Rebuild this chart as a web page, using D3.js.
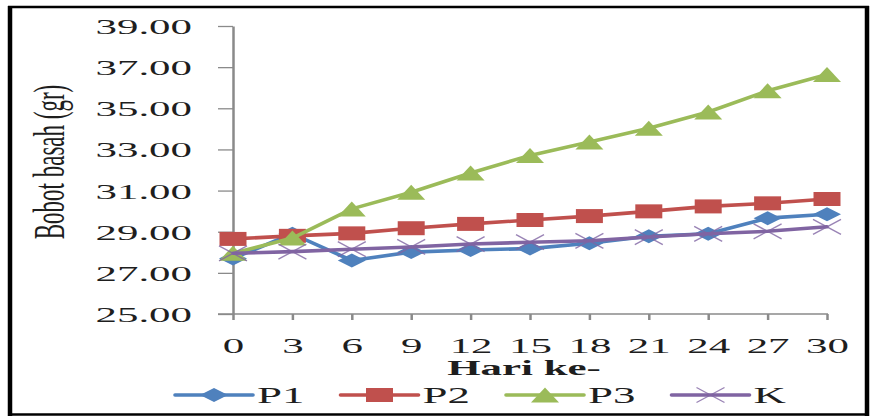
<!DOCTYPE html>
<html>
<head>
<meta charset="utf-8">
<script src="https://cdn.jsdelivr.net/npm/d3@7"></script>
<style>
  html, body { margin: 0; padding: 0; background: #fff; }
  svg { display: block; }
  text { font-family: "Liberation Serif", "Times New Roman", serif; fill: #1e1e1e; }
</style>
</head>
<body>
<svg id="chart" width="871" height="418"></svg>
<script>
// Days of observation (x categories)
const days = [0, 3, 6, 9, 12, 15, 18, 21, 24, 27, 30];

// Fresh weight (gr) per treatment
const p1 = [27.70, 28.90, 27.60, 28.01, 28.11, 28.18, 28.44, 28.78, 28.90, 29.66, 29.85];
const p2 = [28.65, 28.80, 28.92, 29.17, 29.38, 29.57, 29.76, 29.99, 30.23, 30.38, 30.59];
const p3 = [27.95, 28.69, 30.11, 30.92, 31.85, 32.71, 33.36, 34.03, 34.82, 35.85, 36.64];
const k  = [27.95, 28.03, 28.15, 28.26, 28.40, 28.49, 28.56, 28.74, 28.90, 29.02, 29.24];

const seriesNames = ["P1", "P2", "P3", "K"];
const seriesColors = ["#4F81BD", "#C0504D", "#9BBB59", "#8064A2"];
const seriesMarkers = ["diamond", "square", "triangle", "cross"];
const seriesValues = [p1, p2, p3, k];

// Y axis ticks
const yTicks = [25, 27, 29, 31, 33, 35, 37, 39];

const yTitle = "Bobot basah (gr)";
const xTitle = "Hari ke-";

// Horizontal stretch applied to lettering
const SX = 1.95;

const svg = d3.select("#chart");

svg.append("rect").attr("width", 871).attr("height", 418).attr("fill", "#fff");

const x = d3.scalePoint().domain(days).range([233, 827]).padding(0);
const y = d3.scaleLinear().domain([25, 39]).range([314, 26]);

// Y axis
const yAxis = svg.append("g")
  .attr("transform", "translate(233,0)")
  .call(d3.axisLeft(y).tickValues(yTicks).tickSize(15).tickSizeOuter(0).tickFormat(d3.format(".2f")));
yAxis.select(".domain").attr("stroke", "#8a8a8a").attr("stroke-width", 2.5);
yAxis.selectAll(".tick line").attr("stroke", "#8a8a8a").attr("stroke-width", 1.3);
yAxis.selectAll(".tick text")
  .attr("x", -41 / SX)
  .attr("dy", "0.34em")
  .attr("transform", `scale(${SX},1)`)
  .style("font-size", "22px")
  .style("font-family", "'Liberation Serif', serif")
  .attr("fill", "#1e1e1e");

// X axis
const xAxis = svg.append("g")
  .attr("transform", "translate(0,314)")
  .call(d3.axisBottom(x).tickSize(6).tickSizeOuter(0));
xAxis.select(".domain").remove();
xAxis.append("line")
  .attr("x1", 218).attr("x2", 828).attr("y1", 0).attr("y2", 0)
  .attr("stroke", "#8a8a8a").attr("stroke-width", 1.3);
xAxis.selectAll(".tick line").attr("stroke", "#8a8a8a").attr("stroke-width", 2.5);
xAxis.selectAll(".tick text")
  .attr("y", 32)
  .attr("dy", "0.34em")
  .attr("transform", `scale(${SX},1)`)
  .style("font-size", "22px")
  .style("font-family", "'Liberation Serif', serif")
  .attr("fill", "#1e1e1e");

// Marker shapes (width, height)
function markerPath(type, w, h) {
  const a = w / 2, b = h / 2;
  switch (type) {
    case "diamond": return `M0,${-b}L${a},0L0,${b}L${-a},0Z`;
    case "square": return `M${-a},${-b}H${a}V${b}H${-a}Z`;
    case "triangle": return `M0,${-b}L${a},${b}L${-a},${b}Z`;
    case "cross": return `M${-a},${-b}L${a},${b}M${a},${-b}L${-a},${b}`;
  }
}
const markerSize = { diamond: [28, 14], square: [27, 14], triangle: [28, 15], cross: [28, 15] };

function drawMarker(g, type, color) {
  const [w, h] = markerSize[type];
  const p = g.append("path").attr("d", markerPath(type, w, h));
  if (type === "cross") {
    p.attr("fill", "none").attr("stroke", color).attr("stroke-width", 1.4).attr("opacity", 0.8);
  } else {
    p.attr("fill", color).attr("stroke", "none");
  }
}

const line = d3.line().x((d, i) => x(days[i])).y(d => y(d));

// Series lines and markers
seriesValues.forEach((vals, s) => {
  const g = svg.append("g");
  g.append("path")
    .attr("d", line(vals))
    .attr("fill", "none")
    .attr("stroke", seriesColors[s])
    .attr("stroke-width", 3.6)
    .attr("stroke-linejoin", "round")
    .attr("stroke-linecap", "round");
  vals.forEach((v, i) => {
    const m = g.append("g").attr("transform", `translate(${x(days[i])},${y(v)})`);
    drawMarker(m, seriesMarkers[s], seriesColors[s]);
  });
});

// Axis titles
svg.append("text")
  .attr("transform", `translate(524,375) scale(${SX},1)`)
  .attr("text-anchor", "middle")
  .style("font-size", "22px")
  .style("font-weight", "bold")
  .text(xTitle);

svg.append("text")
  .attr("transform", `translate(64,162) scale(${SX},1) rotate(-90)`)
  .attr("text-anchor", "middle")
  .style("font-size", "23px")
  .text(yTitle);

// Legend
const legend = svg.append("g").attr("transform", "translate(0,395)");
seriesNames.forEach((name, s) => {
  const x0 = 175 + s * 165.5;
  const item = legend.append("g").attr("transform", `translate(${x0},0)`);
  item.append("line")
    .attr("x1", 0).attr("x2", 78).attr("y1", 0).attr("y2", 0)
    .attr("stroke", seriesColors[s]).attr("stroke-width", 3.6).attr("stroke-linecap", "round");
  const m = item.append("g").attr("transform", "translate(39,0)");
  drawMarker(m, seriesMarkers[s], seriesColors[s]);
  item.append("text")
    .attr("transform", `translate(82,0) scale(${SX},1)`)
    .attr("dy", "0.35em")
    .style("font-size", "23px")
    .text(name);
});

// Outer frame
const frame = svg.append("g").attr("stroke", "#000");
frame.append("line").attr("x1", 10).attr("x2", 10).attr("y1", 6).attr("y2", 416).attr("stroke-width", 4.5);
frame.append("line").attr("x1", 867).attr("x2", 867).attr("y1", 6).attr("y2", 416).attr("stroke-width", 4.5);
frame.append("line").attr("x1", 8).attr("x2", 869).attr("y1", 7).attr("y2", 7).attr("stroke-width", 2.5);
frame.append("line").attr("x1", 8).attr("x2", 869).attr("y1", 414.5).attr("y2", 414.5).attr("stroke-width", 2.5);
</script>
</body>
</html>
